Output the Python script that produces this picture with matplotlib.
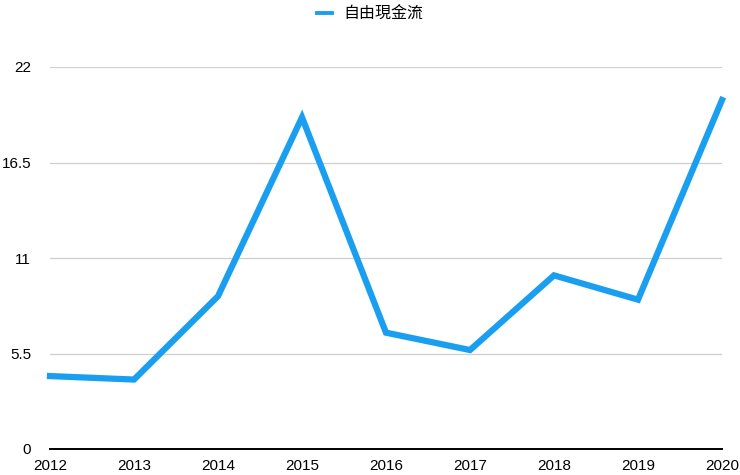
import matplotlib.pyplot as plt

# dados
anos = [2012, 2013, 2014, 2015, 2016, 2017, 2018, 2019, 2020]
fluxo = [4.2, 4.0, 8.8, 19.1, 6.7, 5.7, 10.0, 8.6, 20.1]
yticks = [0, 5.5, 11, 16.5, 22]
ytick_labels = ['0', '5.5', '11', '16.5', '22']
serie = '自由現金流'

plt.rcParams['font.family'] = ['Liberation Sans', 'Noto Sans CJK TC', 'DejaVu Sans']

fig = plt.figure(figsize=(7.4, 4.75), dpi=100)
ax = fig.add_axes([50 / 740, 1 - 449 / 475, 672 / 740, 382 / 475])

cor = '#1a9ff0'
ax.plot(anos, fluxo, color=cor, linewidth=4.5, solid_joinstyle='miter', clip_on=False, label=serie)

ax.set_xlim(2012, 2020)
ax.set_ylim(0, 22)
ax.set_xticks(anos)
ax.set_xticklabels([str(a) for a in anos], fontsize=11)
ax.set_yticks(yticks)
ax.set_yticklabels(ytick_labels, fontsize=11)
ax.tick_params(length=0)
ax.tick_params(axis='y', pad=13.5)
ax.tick_params(axis='x', pad=7)

ax.grid(axis='y', color='#cfcfcf', linewidth=0.9)
ax.set_axisbelow(True)
for lado in ['top', 'right', 'left']:
    ax.spines[lado].set_visible(False)
ax.spines['bottom'].set_linewidth(1.4)
ax.spines['bottom'].set_color('black')

leg = fig.legend(loc='center', bbox_to_anchor=(0.5, 1 - 14 / 475), frameon=False,
                 handlelength=0.95, handletextpad=0.7,
                 prop={'family': ['Noto Sans CJK TC', 'DejaVu Sans'], 'size': 11.5})
for linha in leg.get_lines():
    linha.set_linewidth(2.8)

fig.savefig('out.png', dpi=100)
